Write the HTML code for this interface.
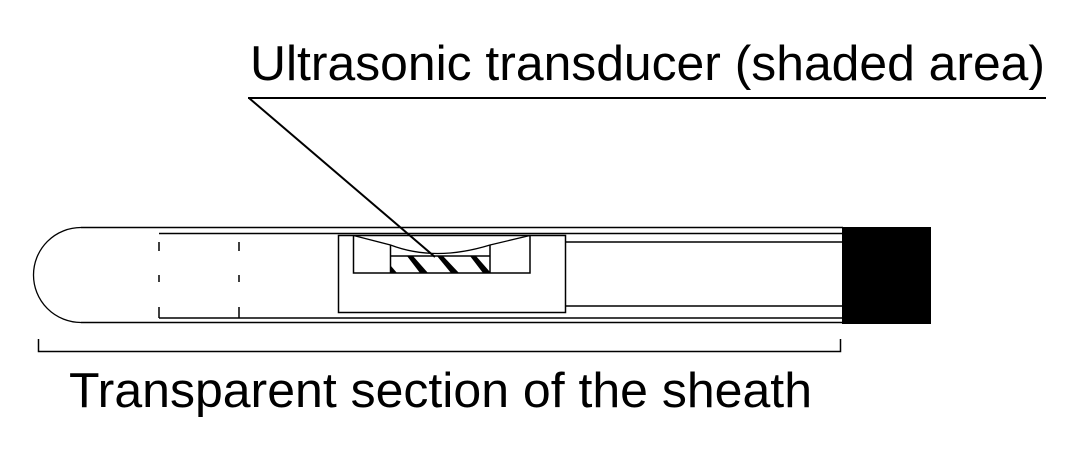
<!DOCTYPE html>
<html><head><style>body{margin:0;background:#fff}svg{display:block}</style></head>
<body>
<svg width="1080" height="458" viewBox="0 0 1080 458" xmlns="http://www.w3.org/2000/svg">
<g fill="none" stroke="#000" stroke-width="1.5">
<path d="M81,227.5 A47.5,47.5 0 0 0 81,322.5" stroke-width="1.3"/>
<line x1="81" y1="227.5" x2="843" y2="227.5"/>
<line x1="81" y1="322.5" x2="843" y2="322.5"/>
<line x1="159" y1="233.5" x2="843" y2="233.5"/>
<line x1="159" y1="318" x2="843" y2="318"/>
<path d="M159,242V251M159,275V282M159,307V318M239,242V251M239,275V282M239,307V318"/>
<rect x="338.5" y="235.5" width="227" height="77"/>
<path d="M353.5,235.5V273H530V235.5"/>
<path d="M390.5,256H490M390.5,245V273M490,245V273"/>
<path d="M353.5,235.5L390.5,245Q435,262 490,245L530,235.5" stroke-width="1.3"/>
<line x1="565.5" y1="242" x2="843" y2="242"/>
<line x1="565.5" y1="306" x2="843" y2="306"/>
<line x1="248" y1="98" x2="1046" y2="98" stroke-width="2"/>
<line x1="249" y1="98" x2="435" y2="257" stroke-width="2"/>
<path d="M38.5,339V351.5H840.5V339"/>
</g>
<g fill="#000">
<polygon points="407,256 413,256 428,273 420,273"/>
<polygon points="437,256 443,256 459,273 451,273"/>
<polygon points="470,256 476,256 490,272 490,273 483,273"/>
<polygon points="391,266 397,273 391,273"/>
<rect x="842" y="227" width="89" height="97"/>
</g>
<g font-family="Liberation Sans, Arial, sans-serif" font-size="49" fill="#000">
<text x="250" y="80" textLength="795" lengthAdjust="spacingAndGlyphs">Ultrasonic transducer (shaded area)</text>
<text x="69" y="407" textLength="743" lengthAdjust="spacingAndGlyphs">Transparent section of the sheath</text>
</g>
</svg>
</body></html>
